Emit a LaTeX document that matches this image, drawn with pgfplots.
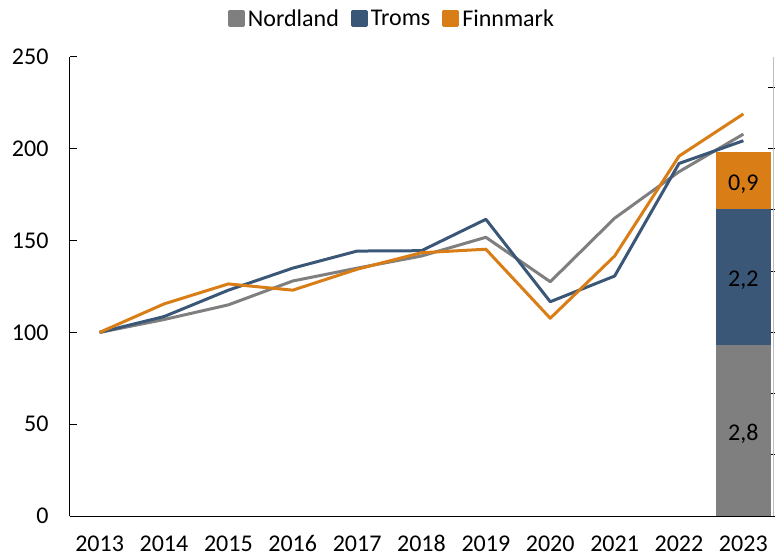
\documentclass[border=0pt]{standalone}
\usepackage{pgfplots}
\pgfplotsset{compat=1.18}
\usepackage{fontspec}
\setmainfont{Carlito}
\definecolor{cNord}{HTML}{7F7F7F}
\definecolor{cTroms}{HTML}{3A5778}
\definecolor{cFinn}{HTML}{D97D17}
\definecolor{cAxR}{HTML}{BFBFBF}
\begin{document}
\begin{tikzpicture}[font=\fontsize{24bp}{29bp}\selectfont]
\useasboundingbox (-70bp,-42bp) rectangle (705bp,516bp);
\pgfplotsset{common/.style={at={(0,0)}, anchor=south west, scale only axis,
  width=703bp, height=459bp, xmin=2012.54, xmax=2023.46,
  /pgf/number format/assume math mode=true,
  /pgf/number format/1000 sep={}}}
% secondary axis with stacked bar
\begin{axis}[common, ybar stacked, bar width=55bp, ymin=0, ymax=7.5,
  axis x line=none, axis y line*=right, ytick={0,1,...,7}, yticklabels={},
  tick align=center, major tick length=7bp, axis line style={cAxR, line width=1bp},
  ytick style={black, line width=1bp, xshift=-1.5bp}]
\addplot[fill=cNord, draw=none] coordinates {(2023,2.8)};
\addplot[fill=cTroms, draw=none] coordinates {(2023,2.22)};
\addplot[fill=cFinn, draw=none] coordinates {(2023,0.92)};
\end{axis}
% labels in the bar
\begin{axis}[common, ymin=0, ymax=7.5, hide axis]
\addplot[only marks, mark=*, mark size=0pt,
  point meta=explicit,
  nodes near coords={\pgfmathprintnumber[use comma,fixed,fixed zerofill,precision=1]{\pgfplotspointmeta}},
  every node near coord/.style={anchor=center, text=black, yshift=-4bp}]
  coordinates {(2023,1.4)[2.8] (2023,3.91)[2.2] (2023,5.48)[0.9]};
\end{axis}
% lines
\begin{axis}[common, ymin=0, ymax=250, ytick={0,50,...,250},
  axis y line*=left, axis x line*=bottom, xtick={2013,...,2023},
  x tick style={draw=none}, tick align=inside, major tick length=7bp,
  axis line style={black, line width=1bp}, y tick style={black, line width=1bp},
  yticklabel style={xshift=-18bp},
  xticklabel style={anchor=base, yshift=-35bp, inner sep=1bp, text depth=0pt},
  legend style={at={(0.458,1.083)}, anchor=center, draw=none, fill=none,
    legend columns=3, /tikz/every even column/.append style={column sep=10bp}},
  legend image code/.code={\fill[#1] (0bp,-7bp) rectangle (14bp,7bp); \path (15bp,0bp);},
  every axis plot/.append style={line width=3bp, line join=round}]
\addplot[cNord] coordinates {(2013,100) (2014,107) (2015,115) (2016,128) (2017,135) (2018,141.6) (2019,151.8) (2020,127.6) (2021,162.2) (2022,187.5) (2023,208)};
\addlegendentry{Nordland}
\addplot[cTroms] coordinates {(2013,100) (2014,108.6) (2015,123) (2016,135) (2017,144.3) (2018,144.5) (2019,161.6) (2020,116.7) (2021,130.7) (2022,192) (2023,204.4)};
\addlegendentry{Troms}
\addplot[cFinn] coordinates {(2013,100) (2014,115.5) (2015,126.4) (2016,123) (2017,134.4) (2018,143.4) (2019,145.3) (2020,107.7) (2021,141.6) (2022,196) (2023,219)};
\addlegendentry{Finnmark}
\end{axis}
\end{tikzpicture}
\end{document}
